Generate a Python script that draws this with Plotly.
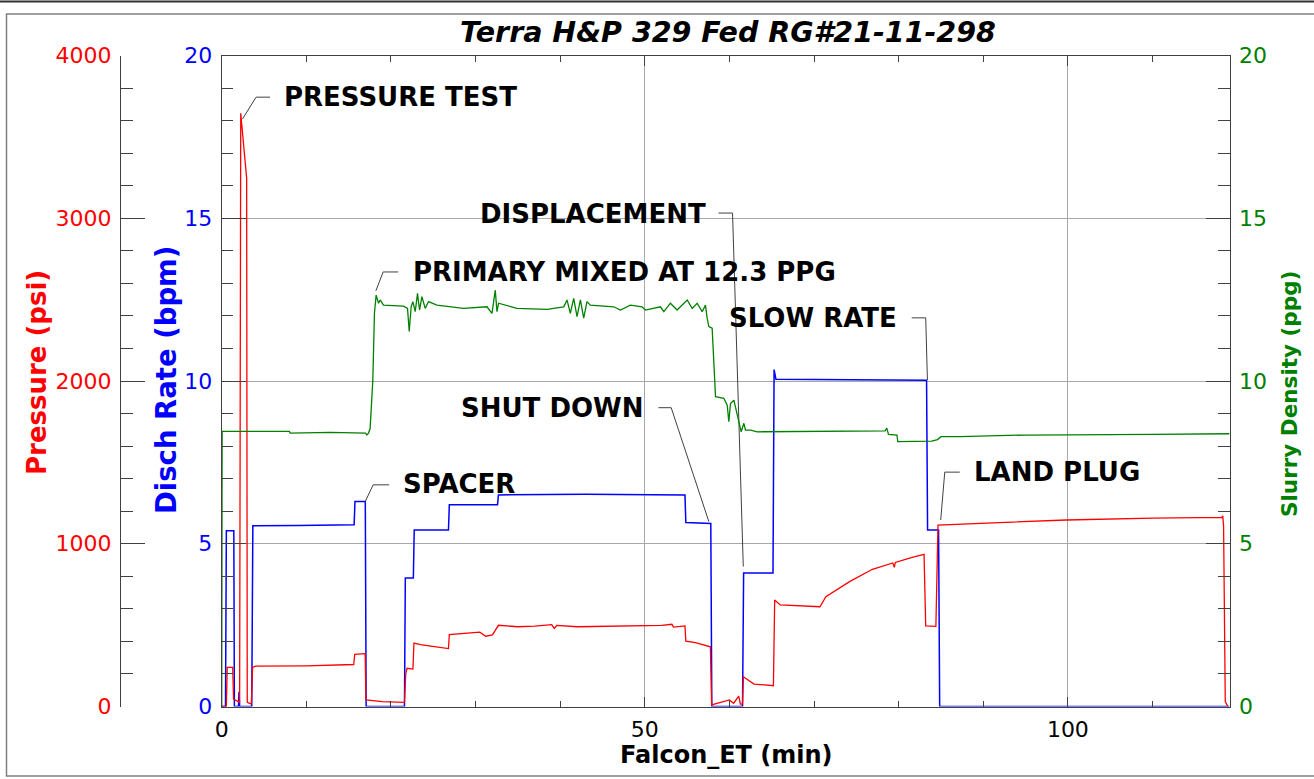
import plotly.graph_objects as go

# ---------------- data ----------------
# Discharge rate (bpm) vs Falcon_ET (min)
rate_t = [0, 0.45, 0.55, 1.43, 1.5, 1.98, 2.05, 2.12, 3.55, 3.68, 9.0, 15.65, 15.75, 16.97, 17.07,
          21.6, 21.7, 22.65, 22.75, 26.8, 26.9, 32.6, 32.7, 43.0, 54.75, 54.85, 57.8, 57.92,
          61.55, 61.68, 65.15, 65.28, 65.5, 75.0, 83.3, 83.42, 84.72, 84.85, 119.1]
rate_v = [0, 0, 5.4, 5.4, 0, 0, 0.45, 0, 0, 5.55, 5.56, 5.58, 6.3, 6.3, 0,
          0, 3.95, 3.95, 5.42, 5.42, 6.2, 6.2, 6.5, 6.52, 6.5, 5.65, 5.62, 0,
          0, 4.1, 4.1, 10.35, 10.05, 10.04, 10.02, 5.42, 5.42, 0, 0]

# Pressure (psi)
press_t = [0.0, 0.55, 0.65, 1.3, 1.4, 2.0, 2.12, 2.25, 2.95, 3.02, 3.5, 3.65, 4.0, 10.0, 15.6,
           15.72, 16.95, 17.05, 19.0, 21.6, 21.75, 21.9, 22.6, 22.72, 23.5, 24.5, 25.5, 26.8,
           26.9, 28.5, 30.5, 31.2, 32.0, 32.7, 35.0, 37.0, 39.0, 39.3, 39.6, 42.0, 45.0, 48.0,
           50.0, 52.0, 53.2, 53.4, 54.75, 54.85, 56.0, 57.0, 57.75, 57.9, 59.0, 60.0, 60.5,
           61.1, 61.3, 61.55, 61.65, 62.9, 65.2, 65.35, 66.0, 70.7, 71.4, 74.2, 76.9, 79.3,
           79.5, 79.6, 81.6, 83.0, 83.2, 84.4, 84.65, 90.0, 99.8, 110.0, 118.2, 118.3, 118.4,
           118.6, 118.9]
press_v = [0, 0, 240, 240, 45, 25, 25, 3645, 3245, 25, 15, 240, 248, 250, 258,
           320, 325, 40, 30, 25, 200, 235, 230, 390, 380, 372, 366, 356,
           442, 449, 457, 432, 440, 499, 490, 494, 503, 480, 498, 490, 492, 495,
           496, 498, 505, 488, 495, 402, 392, 378, 367, 10, 25, 40, 20,
           64, 15, 15, 183, 138, 128, 654, 624, 613, 675, 767, 843, 882,
           855, 885, 917, 935, 495, 492, 1115, 1127, 1146, 1158, 1162, 1172, 1110,
           30, 0]

# Slurry density (ppg)
dens_t = [0, 0.05, 8.0, 8.1, 12.8, 17.0, 17.15, 17.35, 17.54, 17.86, 18.05, 18.25, 18.53, 18.73,
          19.12, 21.49, 21.96, 22.16, 22.39, 22.59, 22.87, 23.14, 23.38, 23.66, 24.05, 24.44,
          25.43, 28.58, 31.35, 31.94, 32.33, 32.53, 32.72, 34.89, 38.44, 40.42, 40.81, 41.2,
          41.6, 41.99, 42.39, 42.78, 43.17, 43.57, 46.33, 47.12, 48.3, 49.68, 50.08, 51.85,
          52.25, 53.03, 53.82, 55.01, 55.6, 56.19, 56.78, 57.17, 57.37, 57.57, 57.96, 58.16,
          58.36, 59.34, 59.74, 59.93, 60.13, 60.53, 60.84, 61.12, 61.39, 61.71, 61.9, 62.5,
          63.29, 78.4, 78.6, 78.8, 79.8, 79.9, 83.9, 84.6, 85.0, 87.2, 95.0, 110.0, 119.1]
dens_v = [0, 8.45, 8.45, 8.40, 8.42, 8.40, 8.34, 8.40, 8.54, 10.03, 12.08, 12.64, 12.39, 12.49,
          12.33, 12.30, 12.23, 11.52, 12.28, 12.44, 12.13, 12.69, 12.18, 12.59, 12.23, 12.44,
          12.33, 12.23, 12.28, 12.08, 12.79, 12.13, 12.39, 12.23, 12.20, 12.28, 12.49, 12.08,
          12.54, 11.98, 12.49, 11.93, 12.44, 12.33, 12.28, 12.18, 12.33, 12.28, 12.18, 12.28,
          12.13, 12.39, 12.18, 12.49, 12.23, 12.39, 12.13, 12.33, 11.93, 11.67, 11.62, 10.54,
          9.52, 9.47, 9.26, 8.75, 9.31, 9.41, 9.06, 8.80, 8.44, 8.70, 8.49, 8.49,
          8.44, 8.47, 8.55, 8.36, 8.34, 8.14, 8.15, 8.20, 8.29, 8.29, 8.34, 8.36, 8.38]

# Event labels (x in min, y in bpm units) and leader polylines
event_text = ["PRESSURE TEST", "PRIMARY MIXED AT 12.3 PPG", "DISPLACEMENT", "SHUT DOWN",
              "SLOW RATE", "SPACER", "LAND PLUG"]
event_x = [7.37, 22.63, 57.25, 49.88, 79.77, 21.45, 88.88]
event_y = [18.72, 13.35, 15.13, 9.17, 11.94, 6.84, 7.20]
event_anchor = ["left", "left", "right", "right", "right", "left", "left"]
leader_x = [[5.71, 4.06, 2.46], [20.86, 19.08, 18.22], [58.71, 60.37, 61.64],
            [51.61, 53.12, 57.57], [81.55, 83.20, 83.40], [19.79, 17.90, 16.95],
            [87.22, 85.45, 84.97]]
leader_y = [[18.72, 18.72, 18.05], [13.35, 13.35, 12.77], [15.16, 15.16, 4.30],
            [9.18, 9.18, 5.68], [11.94, 11.94, 10.03], [6.81, 6.81, 6.29],
            [7.20, 7.20, 5.73]]

# ---------------- figure ----------------
W, H = 1314, 779
FONT = "DejaVu Sans"
RED, BLUE, GREEN = "#ff0000", "#0000ff", "#008000"
AX = "#404040"
GRID = "#a8a8a8"

def pxx(x):
    return x / W

def pxy(y):
    return (H - y) / H

x_dom = [pxx(221.7), pxx(1229.5)]
y_dom = [pxy(706.5), pxy(55.5)]

fig = go.Figure()
fig.add_trace(go.Scatter(x=dens_t, y=dens_v, mode="lines", yaxis="y3",
                         line=dict(color=GREEN, width=1.3), showlegend=False))
fig.add_trace(go.Scatter(x=press_t, y=press_v, mode="lines", yaxis="y2",
                         line=dict(color=RED, width=1.3), showlegend=False))
fig.add_trace(go.Scatter(x=rate_t, y=rate_v, mode="lines", yaxis="y",
                         line=dict(color=BLUE, width=1.5), showlegend=False))

# leader lines
for lx, ly in zip(leader_x, leader_y):
    fig.add_trace(go.Scatter(x=lx, y=ly, mode="lines", yaxis="y",
                             line=dict(color=AX, width=1), showlegend=False,
                             hoverinfo="skip"))

annotations = []
for txt, x, y, anc in zip(event_text, event_x, event_y, event_anchor):
    annotations.append(dict(text="<b>%s</b>" % txt, x=x, y=y, xref="x", yref="y",
                            xanchor=anc, yanchor="middle", showarrow=False,
                            borderpad=0, borderwidth=0,
                            font=dict(family=FONT, size=26, color="black")))

annotations += [
    dict(text="<b><i>Terra H&P 329 Fed RG#21-11-298</i></b>", x=pxx(728), y=pxy(32),
         xref="paper", yref="paper", xanchor="center", yanchor="middle", showarrow=False,
         font=dict(family=FONT, size=28.5, color="black")),
    dict(text="<b>Falcon_ET (min)</b>", x=pxx(726), y=pxy(755), xref="paper", yref="paper",
         xanchor="center", yanchor="middle", showarrow=False,
         font=dict(family=FONT, size=24, color="black")),
    dict(text="<b>Pressure (psi)</b>", x=pxx(37), y=pxy(373), xref="paper", yref="paper",
         xanchor="center", yanchor="middle", showarrow=False, textangle=-90,
         font=dict(family=FONT, size=26, color=RED)),
    dict(text="<b>Disch Rate (bpm)</b>", x=pxx(166), y=pxy(380), xref="paper", yref="paper",
         xanchor="center", yanchor="middle", showarrow=False, textangle=-90,
         font=dict(family=FONT, size=27.5, color=BLUE)),
    dict(text="<b>Slurry Density (ppg)</b>", x=pxx(1290), y=pxy(394), xref="paper", yref="paper",
         xanchor="center", yanchor="middle", showarrow=False, textangle=-90,
         font=dict(family=FONT, size=21.5, color=GREEN)),
]

shapes = [
    dict(type="rect", xref="paper", yref="paper", x0=pxx(6.5), x1=pxx(1330), y0=pxy(776), y1=pxy(14),
         line=dict(color="#808080", width=1.5), layer="below"),
    dict(type="line", xref="paper", yref="paper", x0=0, x1=1, y0=pxy(1.5), y1=pxy(1.5),
         line=dict(color="#303030", width=2)),
]

def yax(**kw):
    d = dict(ticks="inside", ticklen=24, tickwidth=1, tickcolor=AX,
             showline=True, linecolor=AX, linewidth=1, zeroline=False,
             ticklabelstandoff=4, automargin=False)
    d.update(kw)
    return d

fig.update_layout(
    width=W, height=H, margin=dict(l=0, r=0, t=0, b=0, pad=0, autoexpand=False),
    paper_bgcolor="white", plot_bgcolor="white",
    xaxis=dict(domain=x_dom, range=[0, 119.1], tick0=0, dtick=50, ticks="inside", ticklen=10,
               tickwidth=1, tickcolor=AX, automargin=False,
               minor=dict(dtick=10, tick0=0, ticks="inside", ticklen=6, tickcolor=AX),
               showline=True, mirror="ticks", linecolor=AX, linewidth=1,
               showgrid=True, gridcolor=GRID, gridwidth=1, zeroline=False,
               tickfont=dict(family=FONT, size=22, color="black"), ticklabelstandoff=3),
    yaxis=yax(domain=y_dom, range=[0, 20], tick0=0, dtick=5, anchor="x", side="left",
              minor=dict(dtick=1, ticks="inside", ticklen=11, tickcolor=AX),
              showgrid=True, gridcolor=GRID, gridwidth=1,
              tickfont=dict(family=FONT, size=22, color=BLUE)),
    yaxis2=yax(domain=y_dom, range=[0, 4000], tick0=0, dtick=1000, anchor="free",
               position=pxx(120), overlaying="y", side="left",
               minor=dict(dtick=200, ticks="inside", ticklen=12, tickcolor=AX),
               showgrid=False, tickfont=dict(family=FONT, size=22, color=RED)),
    yaxis3=yax(domain=y_dom, range=[0, 20], tick0=0, dtick=5, anchor="x",
               overlaying="y", side="right",
               minor=dict(dtick=1, ticks="inside", ticklen=12, tickcolor=AX),
               showgrid=False, tickfont=dict(family=FONT, size=22, color=GREEN)),
    annotations=annotations, shapes=shapes,
)

fig.write_html("out.html", config={"displayModeBar": False},
               post_script="document.body.style.margin='0';document.body.style.overflow='hidden';")
